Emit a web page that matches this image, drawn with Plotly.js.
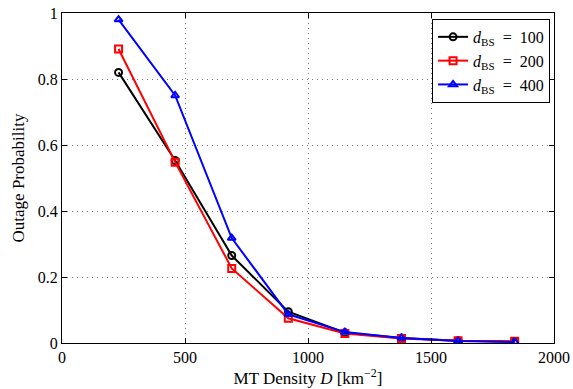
<!DOCTYPE html>
<html>
<head>
<meta charset="utf-8">
<script src="https://cdn.plot.ly/plotly-3.0.1.min.js"></script>
<style>
  html, body { margin: 0; padding: 0; background: #fff; }
  #chart { width: 573px; height: 389px; }
</style>
</head>
<body>
<div id="chart"></div>
<script>
// MT density samples (per km^2)
const density = [230, 460, 690, 920, 1150, 1380, 1610, 1840];

// Outage probability for each BS spacing
const outage100 = [0.820, 0.553, 0.265, 0.095, 0.031, 0.015, 0.007, 0.004];
const outage200 = [0.891, 0.548, 0.226, 0.075, 0.029, 0.014, 0.007, 0.005];
const outage400 = [0.980, 0.750, 0.318, 0.087, 0.033, 0.015, 0.006, 0.003];

const seriesNames = ['100', '200', '400'];
const xTicks = [0, 500, 1000, 1500, 2000];
const yTicks = [0, 0.2, 0.4, 0.6, 0.8, 1];

const serif = 'Liberation Serif';

function series(y, name, color, symbol) {
  return {
    x: density, y: y, type: 'scatter', mode: 'lines+markers',
    name: '<i>d</i><sub>BS</sub>&nbsp;&nbsp;=&nbsp;&nbsp;' + name,
    line: { color: color, width: 2 },
    marker: { symbol: symbol, size: 7, color: color, line: { color: color, width: 2 } }
  };
}

const traces = [
  series(outage100, seriesNames[0], '#000000', 'circle-open'),
  series(outage200, seriesNames[1], '#ff0000', 'square-open'),
  series(outage400, seriesNames[2], '#0000ff', 'triangle-up-open')
];

const axisCommon = {
  showline: true, linecolor: '#000', linewidth: 1, mirror: 'allticks',
  ticks: 'inside', ticklen: 5, tickcolor: '#000', tickwidth: 1,
  showgrid: true, gridcolor: '#777', griddash: '1px,4px', gridwidth: 1,
  zeroline: false, tickfont: { family: serif, size: 16, color: '#000' }
};

const layout = {
  width: 573, height: 389,
  margin: { l: 62, r: 19, t: 13, b: 46 },
  paper_bgcolor: '#fff', plot_bgcolor: '#fff',
  font: { family: serif, color: '#000' },
  showlegend: true,
  legend: {
    x: 0.992, xanchor: 'right', y: 0.982, yanchor: 'top',
    bgcolor: '#fff', bordercolor: '#000', borderwidth: 1,
    font: { family: serif, size: 16, color: '#000' },
    tracegroupgap: 0, itemwidth: 30
  },
  xaxis: Object.assign({}, axisCommon, {
    range: [0, 2000], tickvals: xTicks, ticktext: xTicks.map(String),
    title: { text: 'MT Density <i>D</i> [km<sup>−2</sup>]', font: { family: serif, size: 17 }, standoff: 4 }
  }),
  yaxis: Object.assign({}, axisCommon, {
    range: [0, 1], tickvals: yTicks, ticktext: yTicks.map(String),
    title: { text: 'Outage Probability', font: { family: serif, size: 17 }, standoff: 8 }
  })
};

Plotly.newPlot('chart', traces, layout, { displayModeBar: false, staticPlot: true });
</script>
</body>
</html>
